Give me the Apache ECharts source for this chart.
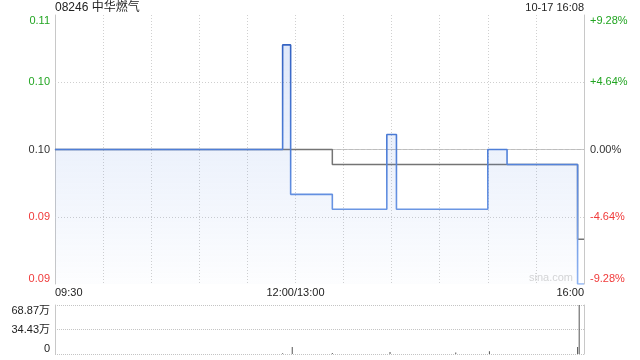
<!DOCTYPE html>
<html>
<head>
<meta charset="utf-8">
<script src="https://cdn.jsdelivr.net/npm/echarts@6/dist/echarts.min.js"></script>
<style>html,body{margin:0;padding:0;background:#fff}#c{width:640px;height:360px}</style>
</head>
<body>
<div id="c"></div>
<script>
// ---- data ----
var stockTitle = '08246 中华燃气';
var stamp = '10-17 16:08';
var prevClose = 0.097;
var priceTimes = ['09:30','11:52','11:57','13:23','13:57','14:03','15:00','15:12','15:56','16:00'];
var prices     = [0.097, 0.104, 0.094, 0.093, 0.098, 0.093, 0.097, 0.096, 0.088, 0.088];
var avgTimes = ['09:30','13:23','15:56','16:00'];
var avgPrices = [0.097, 0.096, 0.091, 0.091];
var volTimes = ['11:52','11:58','13:23','13:59','14:40','15:01','15:56','15:57'];
var volumes  = [12000, 98000, 14000, 28000, 20000, 40000, 100000, 688700];
var volMax = 688700;
var pctRange = 9.28;
var xTickLabels = {0:'09:30', 150:'12:00/13:00', 330:'16:00'};

function tIdx(t){
  var p=t.split(':'); var m=(+p[0])*60+(+p[1]);
  var i=m-(9*60+30);
  if(m>=13*60) i-=60;
  return i;
}
function pct(p){ return (p/prevClose-1)*100; }

var FONT = '"Liberation Sans", Arial, "Noto Sans CJK SC", sans-serif';
var GREEN = '#22a522', RED = '#f03a3a', DARK = '#333';
function colorOf(v){ if(v>0.01) return GREEN; if(v<-0.01) return RED; return DARK; }

var priceData = priceTimes.map(function(t,i){ return [tIdx(t), pct(prices[i])]; });
var avgData = avgTimes.map(function(t,i){ return [tIdx(t), pct(avgPrices[i])]; });
var volData = volTimes.map(function(t,i){ return [tIdx(t), volumes[i]]; });

var chart = echarts.init(document.getElementById('c'), null, {renderer:'canvas'});
chart.setOption({
  animation:false,
  textStyle:{fontFamily:FONT},
  title:[
    {text:stockTitle, left:55, top:2, padding:0, textStyle:{fontSize:12, fontWeight:'normal', color:'#222', fontFamily:FONT}},
    {text:stamp, right:56, top:2, padding:0, textStyle:{fontSize:11, fontWeight:'normal', color:'#222', fontFamily:FONT}}
  ],
  graphic:[{type:'text', right:67, top:272, style:{text:'sina.com', fill:'#d6d6d6', font:'11px '+FONT}}],
  grid:[
    {left:55, right:56, top:15, height:269},
    {left:55, right:56, top:305, height:49}
  ],
  xAxis:[
    {type:'value', gridIndex:0, min:0, max:330, interval:30,
     axisLine:{show:true, lineStyle:{color:'#c8c8c8'}}, axisTick:{show:false},
     splitLine:{show:true, lineStyle:{color:'#d0d0d0', type:[1,2]}},
     axisLabel:{margin:3, fontSize:11, color:'#222', fontFamily:FONT, showMinLabel:true, showMaxLabel:true,
       alignMinLabel:'left', alignMaxLabel:'right',
       formatter:function(v){ return xTickLabels[Math.round(v)]||''; }}},
    {type:'value', gridIndex:1, min:0, max:330, interval:30,
     axisLine:{show:false}, axisTick:{show:false}, splitLine:{show:false}, axisLabel:{show:false}}
  ],
  yAxis:[
    {type:'value', gridIndex:0, position:'left', min:-pctRange, max:pctRange, interval:pctRange/2,
     axisLine:{show:true, lineStyle:{color:'#c8c8c8'}}, axisTick:{show:false}, splitLine:{show:false},
     axisLabel:{margin:5, fontSize:11, fontFamily:FONT, verticalAlignMaxLabel:'top', verticalAlignMinLabel:'bottom',
       color:function(v){ return colorOf(+v); },
       formatter:function(v){ return (prevClose*(1+v/100)).toFixed(2); }}},
    {type:'value', gridIndex:0, position:'right', min:-pctRange, max:pctRange, interval:pctRange/2,
     axisLine:{show:true, lineStyle:{color:'#c8c8c8'}}, axisTick:{show:false}, splitLine:{show:false},
     axisLabel:{margin:6, fontSize:11, fontFamily:FONT, verticalAlignMaxLabel:'top', verticalAlignMinLabel:'bottom',
       color:function(v){ return colorOf(+v); },
       formatter:function(v){ var s=Math.abs(v)<0.005?'0.00':(v>0?'+':'')+v.toFixed(2); return s+'%'; }}},
    {type:'value', gridIndex:1, position:'left', min:0, max:volMax, interval:volMax/2,
     axisLine:{show:true, lineStyle:{color:'#c8c8c8'}}, axisTick:{show:false},
     splitLine:{show:true, lineStyle:{color:'#c4c4c4', type:[1,1]}},
     axisLabel:{margin:5, fontSize:11, color:'#222', fontFamily:FONT, verticalAlignMaxLabel:'top', verticalAlignMinLabel:'bottom',
       formatter:function(v){ return v===0?'0':(Math.floor(v/100)/100).toFixed(2)+'万'; }}},
    {type:'value', gridIndex:1, position:'right', min:0, max:volMax, interval:volMax/2,
     axisLine:{show:true, lineStyle:{color:'#c8c8c8'}}, axisTick:{show:false}, splitLine:{show:false}, axisLabel:{show:false}}
  ],
  series:[
    {type:'line', name:'avg', xAxisIndex:0, yAxisIndex:0, z:2, step:'end', symbol:'none', data:avgData,
     lineStyle:{color:'#747474', width:1.5},
     markLine:{silent:true, z:1, symbol:'none', label:{show:false},
       data:[
         {yAxis:0, lineStyle:{color:'#bdbdbd', type:[4,2], width:1}},
         {yAxis:pctRange/2, lineStyle:{color:'#cfcfcf', type:[1,2], width:1}},
         {yAxis:-pctRange/2, lineStyle:{color:'#cfcfcf', type:[1,2], width:1}}
       ]}},
    {type:'line', name:'price', xAxisIndex:0, yAxisIndex:0, z:3, step:'end', symbol:'none', data:priceData,
     lineStyle:{width:1.6, color:new echarts.graphic.LinearGradient(0,0,0,1,[{offset:0,color:'#3563c2'},{offset:0.45,color:'#4f7fd8'},{offset:1,color:'#8fb4f2'}])},
     areaStyle:{origin:'start', color:new echarts.graphic.LinearGradient(0,0,0,1,[{offset:0,color:'rgba(80,130,225,0.26)'},{offset:1,color:'rgba(80,130,225,0.02)'}])}},
    {type:'bar', name:'vol', xAxisIndex:1, yAxisIndex:2, barWidth:1, data:volData,
     itemStyle:{color:'#555'}}
  ]
});
</script>
</body>
</html>
